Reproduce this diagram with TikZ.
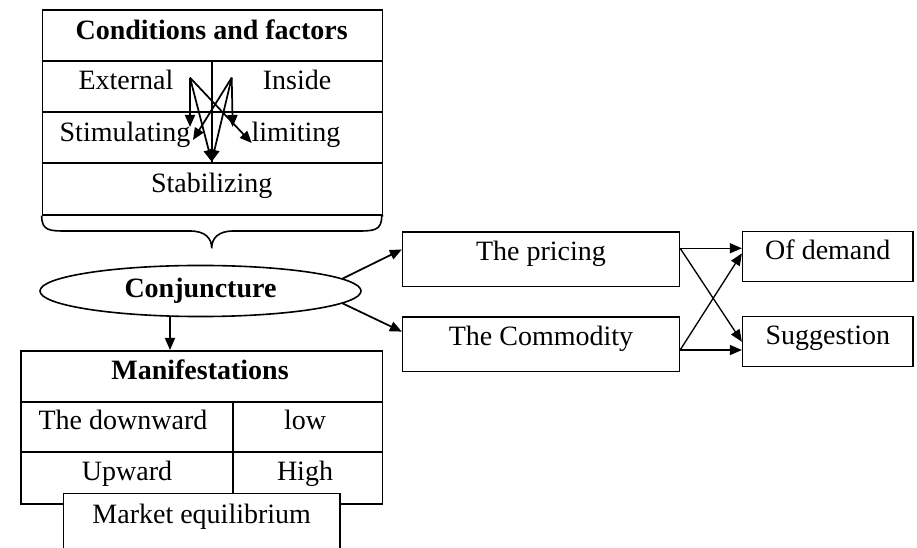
\documentclass[tikz,border=0pt]{standalone}
\usepackage{fontspec}
\setmainfont{Liberation Serif}
\usetikzlibrary{shapes.geometric,arrows.meta}

\begin{document}
\begin{tikzpicture}[
  x=0.75pt, y=-0.75pt,
  font=\fontsize{21}{25}\selectfont,
  frame/.style={draw, line width=1.2pt, inner sep=0pt},
  cell/.style={anchor=base, inner sep=0pt},
  hdr/.style={cell, font=\fontsize{21}{25}\selectfont\bfseries},
  box/.style={frame, text height=21.5pt, text depth=19.5pt, minimum width=207.5pt},
  res/.style={frame, text height=21pt, text depth=16.5pt, minimum width=127.7pt},
  arr/.style={-{Triangle[length=9pt,width=7.5pt]}, line width=1.3pt},
  link/.style={-{Triangle[length=9pt,width=7.5pt]}, line width=1pt}
]
\useasboundingbox (0,0) rectangle (917,548);

% Conditions and factors
\node[frame, anchor=north west, minimum width=255pt, minimum height=153.5pt] (condbox) at (41.7,9.3) {};
\draw[line width=1.2pt] (41.7,61) -- (381.7,61) (41.7,112) -- (381.7,112) (211.7,61) -- (211.7,163);
\draw[line width=1.8pt] (41.7,163) -- (381.7,163);
\draw[line width=1.2pt] (condbox.south west) -- (41.7,216)
  .. controls (41.7,231) and (50,231) .. (66.7,231) -- (190,231)
  .. controls (205,231) and (211.7,238) .. (211.7,248.3)
  .. controls (211.7,238) and (218.4,231) .. (233.4,231) -- (356.7,231)
  .. controls (373.4,231) and (381.7,231) .. (381.7,216) -- (condbox.south east);

\node[hdr] (cond) at (211.7,39.3) {Conditions and factors};
\node[cell] (ext) at (126,89.3) {External};
\node[cell] (ins) at (297,89.3) {Inside};
\node[cell] (stim) at (125,141.7) {Stimulating};
\node[cell] (lim) at (296,141.7) {limiting};
\node[cell] (stab) at (211.7,192.7) {Stabilizing};

\coordinate (ext0) at (190,77.7);
\coordinate (ins0) at (231.7,77.7);
\coordinate (stim1) at (190,127);
\coordinate (stim2) at (193,140);
\coordinate (lim1) at (232.7,127);
\coordinate (lim2) at (251.7,143);
\coordinate (stab1) at (211.7,161.7);

\draw[arr] (ext0) -- (stim1);
\draw[arr] (ext0) -- (stab1);
\draw[arr] (ext0) -- (lim2);
\draw[arr] (ins0) -- (lim1);
\draw[arr] (ins0) -- (stim2);
\draw[arr] (ins0) -- (stab1);

% Conjuncture
\node[ellipse, frame, minimum width=240.8pt, minimum height=38.3pt, font=\fontsize{21}{25}\selectfont\bfseries] (conj) at (200.5,291) {Conjuncture};

% Manifestations
\node[frame, anchor=north west, minimum width=271.3pt, minimum height=114.8pt] (manifbox) at (20,350) {};
\draw[line width=1.2pt] (20,402) -- (381.7,402) (20,452) -- (381.7,452) (232.7,402) -- (232.7,503);
\filldraw[line width=1.2pt, fill=white] (63.3,548) -- (63.3,493.3) -- (340,493.3) -- (340,548);

\node[hdr] (manif) at (200,379.3) {Manifestations};
\node[cell] (down) at (123,430) {The downward};
\node[cell] (low) at (305,430) {low};
\node[cell] (up) at (127,480.7) {Upward};
\node[cell] (high) at (305,480.7) {High};
\node[cell] (equil) at (201.7,523.3) {Market equilibrium};

\coordinate (conjout) at (170,316);
\draw[arr] (conjout) -- (conjout |- manifbox.north);

% Pricing and commodity
\node[box] (pricing) at (541,259.2) {The pricing};
\node[box] (commodity) at (541,344.3) {The Commodity};
\node[res] (demand) at (827.8,256.7) {Of demand};
\node[res] (sugg) at (827.8,341.7) {Suggestion};

% Arrows
\draw[arr] (conj.5) -- ([yshift=7.3pt]pricing.west);
\draw[arr] (conj.-5) -- ([yshift=9.5pt]commodity.west);
\draw[link] ([yshift=8.2pt]pricing.east) -- ([yshift=8.2pt]pricing.east -| demand.west);
\draw[link] ([yshift=8.2pt]pricing.east) -- (sugg.west);
\draw[link] ([yshift=-4.3pt]commodity.east) -- ([yshift=2.5pt]demand.west);
\draw[link] ([yshift=-4.3pt]commodity.east) -- ([yshift=-4.3pt]commodity.east -| sugg.west);
\end{tikzpicture}
\end{document}
